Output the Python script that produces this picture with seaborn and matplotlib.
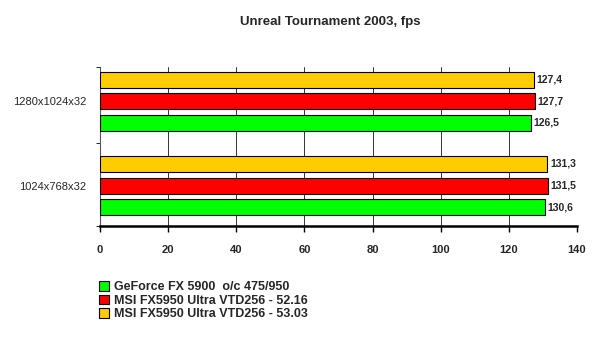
import numpy as np
import pandas as pd
import matplotlib as mpl
mpl.use('Agg')
import matplotlib.pyplot as plt
import seaborn as sns

resolutions = ['1280x1024x32', '1024x768x32']
cards = ['GeForce FX 5900  o/c 475/950',
         'MSI FX5950 Ultra VTD256 - 52.16',
         'MSI FX5950 Ultra VTD256 - 53.03']
fps_geforce = [126.5, 130.6]
fps_msi_5216 = [127.7, 131.5]
fps_msi_5303 = [127.4, 131.3]
colors = ['#00FF00', '#FF0000', '#FFCC00']
ticks_x = [0, 20, 40, 60, 80, 100, 120, 140]

sns.set_style('white')
plt.rcParams['font.family'] = ['Liberation Sans', 'DejaVu Sans']

df = pd.DataFrame({
    'res': resolutions * 3,
    'card': [cards[0]] * 2 + [cards[1]] * 2 + [cards[2]] * 2,
    'fps': fps_geforce + fps_msi_5216 + fps_msi_5303,
})

fig = plt.figure(figsize=(6, 3.5), dpi=100)
ax = fig.add_axes([100 / 600, 1 - 226 / 350, 477 / 600, 159 / 350])

# top bar in each group is the last card, so draw hues in reverse order
hue_order = cards[::-1]
pal = dict(zip(cards, colors))
sns.barplot(data=df, x='fps', y='res', hue='card', hue_order=hue_order, order=resolutions,
            palette=pal, width=0.77, gap=0.26, edgecolor='black', linewidth=0.8,
            saturation=1, legend=False, ax=ax, zorder=3)

for cont in ax.containers:
    ax.bar_label(cont, labels=[f'{v:.1f}'.replace('.', ',') for v in cont.datavalues],
                 padding=2, fontsize=7.5, fontweight='bold')

ax.set_xlim(0, 140)
ax.set_ylim(1.48, -0.406)
ax.set_xticks(ticks_x)
ax.set_xticklabels([str(t) for t in ticks_x], fontsize=8, fontweight='bold')
ax.xaxis.grid(True, color='#333333', lw=0.7, zorder=0)
ax.set_axisbelow(True)
ax.tick_params(axis='x', length=4, width=1, direction='out', bottom=True, pad=10, color='black')
ax.tick_params(axis='y', length=0, labelsize=8, pad=10)
ax.set_yticks(ax.get_yticks(), minor=False)
ax.set_yticks([-0.406, 0.5, 1.48], minor=True)
ax.tick_params(axis='y', which='minor', length=3, left=True, color='black')
ax.set_xlabel('')
ax.set_ylabel('')
for side in ['top', 'right']:
    ax.spines[side].set_visible(False)
ax.spines['bottom'].set_linewidth(1.8)
ax.spines['bottom'].set_color('black')
ax.spines['left'].set_linewidth(0.8)
ax.spines['left'].set_color('#555555')

fig.text(0.55, 1 - 22 / 350, 'Unreal Tournament 2003, fps', ha='center', va='center',
         fontsize=9.5, fontweight='bold')

handles = [mpl.patches.Patch(facecolor=c, edgecolor='black', lw=0.8) for c in colors]
fig.legend(handles, cards, loc='upper left', bbox_to_anchor=(88 / 600, 1 - 270 / 350),
           frameon=False, handlelength=0.8, handleheight=0.8,
           handletextpad=0.4, labelspacing=0.1, prop={'weight': 'bold', 'size': 9})

fig.savefig('out.png', dpi=100)
